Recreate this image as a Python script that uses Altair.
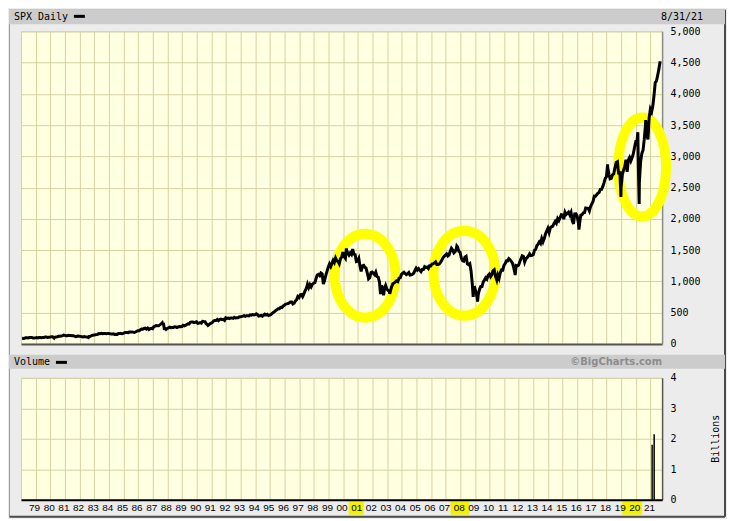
import altair as alt
import pandas as pd

# ---------------- data ----------------
YEARS = list(range(1978, 2022))
YEAR_LABELS = list(range(1979, 2022))

# S&P 500 month-end closes, Jan 1978 .. Aug 2021 (read / estimated)
SPX_CLOSE = [
    89.25, 87.04, 89.21, 96.83, 97.24, 95.53, 100.68, 103.29, 102.54, 93.15, 94.70, 96.11,
    99.93, 96.28, 101.59, 101.76, 99.08, 102.91, 103.81, 109.32, 109.32, 101.82, 106.16, 107.94,
    114.16, 113.66, 102.09, 106.29, 111.24, 114.24, 121.67, 122.38, 125.46, 127.47, 140.52, 135.76,
    129.55, 131.27, 136.00, 132.81, 132.59, 131.21, 130.92, 122.79, 116.18, 121.89, 126.35, 122.55,
    120.40, 113.11, 111.96, 116.44, 111.88, 109.61, 107.09, 119.51, 120.42, 133.71, 138.54, 140.64,
    145.30, 148.06, 152.96, 164.42, 162.39, 168.11, 162.56, 164.40, 166.07, 163.55, 166.40, 164.93,
    163.41, 157.06, 159.18, 160.05, 150.55, 153.18, 150.66, 166.68, 166.10, 166.09, 163.58, 167.24,
    179.63, 181.18, 180.66, 179.83, 189.55, 191.85, 190.92, 188.63, 182.08, 189.82, 202.17, 211.28,
    211.78, 226.92, 238.90, 235.52, 247.35, 250.84, 236.12, 252.93, 231.32, 243.98, 249.22, 242.17,
    274.08, 284.20, 291.70, 288.36, 290.10, 304.00, 318.66, 329.80, 321.83, 251.79, 230.30, 247.08,
    257.07, 267.82, 258.89, 261.33, 262.16, 273.50, 272.02, 261.52, 271.91, 278.97, 273.70, 277.72,
    297.47, 288.86, 294.87, 309.64, 320.52, 317.98, 346.08, 351.45, 349.15, 340.36, 345.99, 353.40,
    329.08, 331.89, 339.94, 330.80, 361.23, 358.02, 356.15, 322.56, 306.05, 304.00, 322.22, 330.22,
    343.93, 367.07, 375.22, 375.34, 389.83, 371.16, 387.81, 395.43, 387.86, 392.45, 375.22, 417.09,
    408.79, 412.70, 403.69, 414.95, 415.35, 408.14, 424.21, 414.03, 417.80, 418.68, 431.35, 435.71,
    438.78, 443.38, 451.67, 440.19, 450.19, 450.53, 448.13, 463.56, 458.93, 467.83, 461.79, 466.45,
    481.61, 467.14, 445.77, 450.91, 456.50, 444.27, 458.26, 475.49, 462.69, 472.35, 453.69, 459.27,
    470.42, 487.39, 500.71, 514.71, 533.40, 544.75, 562.06, 561.88, 584.41, 581.50, 605.37, 615.93,
    636.02, 640.43, 645.50, 654.17, 669.12, 670.63, 639.95, 651.99, 687.33, 705.27, 757.02, 740.74,
    786.16, 790.82, 757.12, 801.34, 848.28, 885.14, 954.31, 899.47, 947.28, 914.62, 955.40, 970.43,
    980.28, 1049.34, 1101.75, 1111.75, 1090.82, 1133.84, 1120.67, 957.28, 1017.01, 1098.67, 1163.63, 1229.23,
    1279.64, 1238.33, 1286.37, 1335.18, 1301.84, 1372.71, 1328.72, 1320.41, 1282.71, 1362.93, 1388.91, 1469.25,
    1394.46, 1366.42, 1498.58, 1452.43, 1420.60, 1454.60, 1430.83, 1517.68, 1436.51, 1429.40, 1314.95, 1320.28,
    1366.01, 1239.94, 1160.33, 1249.46, 1255.82, 1224.42, 1211.23, 1133.58, 1040.94, 1059.78, 1139.45, 1148.08,
    1130.20, 1106.73, 1147.39, 1076.92, 1067.14, 989.82, 911.62, 916.07, 815.28, 885.76, 936.31, 879.82,
    855.70, 841.15, 848.18, 916.92, 963.59, 974.50, 990.31, 1008.01, 995.97, 1050.71, 1058.20, 1111.92,
    1131.13, 1144.94, 1126.21, 1107.30, 1120.68, 1140.84, 1101.72, 1104.24, 1114.58, 1130.20, 1173.82, 1211.92,
    1181.27, 1203.60, 1180.59, 1156.85, 1191.50, 1191.33, 1234.18, 1220.33, 1228.81, 1207.01, 1249.48, 1248.29,
    1280.08, 1280.66, 1294.83, 1310.61, 1270.09, 1270.20, 1276.66, 1303.82, 1335.85, 1377.94, 1400.63, 1418.30,
    1438.24, 1406.82, 1420.86, 1482.37, 1530.62, 1503.35, 1455.27, 1473.99, 1526.75, 1549.38, 1481.14, 1468.36,
    1378.55, 1330.63, 1322.70, 1385.59, 1400.38, 1280.00, 1267.38, 1282.83, 1166.36, 968.75, 896.24, 903.25,
    825.88, 735.09, 797.87, 872.81, 919.14, 919.32, 987.48, 1020.62, 1057.08, 1036.19, 1095.63, 1115.10,
    1073.87, 1104.49, 1169.43, 1186.69, 1089.41, 1030.71, 1101.60, 1049.33, 1141.20, 1183.26, 1180.55, 1257.64,
    1286.12, 1327.22, 1325.83, 1363.61, 1345.20, 1320.64, 1292.28, 1218.89, 1131.42, 1253.30, 1246.96, 1257.60,
    1312.41, 1365.68, 1408.47, 1397.91, 1310.33, 1362.16, 1379.32, 1406.58, 1440.67, 1412.16, 1416.18, 1426.19,
    1498.11, 1514.68, 1569.19, 1597.57, 1630.74, 1606.28, 1685.73, 1632.97, 1681.55, 1756.54, 1805.81, 1848.36,
    1782.59, 1859.45, 1872.34, 1883.95, 1923.57, 1960.23, 1930.67, 2003.37, 1972.29, 2018.05, 2067.56, 2058.90,
    1994.99, 2104.50, 2067.89, 2085.51, 2107.39, 2063.11, 2103.84, 1972.18, 1920.03, 2079.36, 2080.41, 2043.94,
    1940.24, 1932.23, 2059.74, 2065.30, 2096.95, 2098.86, 2173.60, 2170.95, 2168.27, 2126.15, 2198.81, 2238.83,
    2278.87, 2363.64, 2362.72, 2384.20, 2411.80, 2423.41, 2470.30, 2471.65, 2519.36, 2575.26, 2647.58, 2673.61,
    2823.81, 2713.83, 2640.87, 2648.05, 2705.27, 2718.37, 2816.29, 2901.52, 2913.98, 2711.74, 2760.17, 2506.85,
    2704.10, 2784.49, 2834.40, 2945.83, 2752.06, 2941.76, 2980.38, 2926.46, 2976.74, 3037.56, 3140.98, 3230.78,
    3225.52, 2954.22, 2584.59, 2912.43, 3044.31, 3100.29, 3271.12, 3500.31, 3363.00, 3269.96, 3621.63, 3756.07,
    3714.24, 3811.15, 3972.89, 4181.17, 4204.11, 4297.50, 4395.26, 4522.68,
]

# intra-month highs / lows that show as spikes
EXTREME_DATES = ["1980-03-27", "1982-08-12", "1987-08-25", "1987-10-19", "1990-10-11",
                 "2000-03-24", "2002-07-23", "2002-10-09", "2003-03-11", "2007-10-09",
                 "2008-11-20", "2009-03-09", "2010-07-02", "2011-10-03", "2016-02-11",
                 "2018-01-26", "2018-12-24", "2020-02-19", "2020-03-23", "2020-09-02"]
EXTREME_VALUES = [98.22, 102.42, 336.77, 224.84, 295.46,
                  1527.46, 797.70, 776.76, 800.73, 1565.15,
                  752.44, 676.53, 1022.58, 1099.23, 1829.08,
                  2872.87, 2351.10, 3386.15, 2237.40, 3580.84]

VOL_DATES = ["2021-02-09", "2021-04-01"]
VOL_BILLIONS = [1.80, 2.15]

Y_TICKS = [0, 500, 1000, 1500, 2000, 2500, 3000, 3500, 4000, 4500, 5000]
VOL_TICKS = [0, 1, 2, 3, 4]

HIGHLIGHT_START = ["2000-05-20", "2007-05-05", "2019-01-25"]
HIGHLIGHT_END = ["2001-05-30", "2008-08-20", "2020-06-05"]

CIRCLE_DATES = ["2001-07-05", "2008-04-15", "2020-06-05"]
CIRCLE_VALUES = [1090, 1130, 2829]
CIRCLE_W = [61, 62, 48]
CIRCLE_H = [84, 85, 99]
CIRCLE_ANGLE = [0, 0, 0]

# ---------------- tables ----------------
month_dates = [f"{y}-{m:02d}-28" for y in YEARS for m in range(1, 13)][: len(SPX_CLOSE)]
spx = pd.DataFrame({"date": month_dates + EXTREME_DATES,
                    "close": SPX_CLOSE + EXTREME_VALUES}).sort_values("date")
vol = pd.DataFrame({"date": VOL_DATES, "billions": VOL_BILLIONS, "base": [0, 0]})
hl = pd.DataFrame({"start": HIGHLIGHT_START, "end": HIGHLIGHT_END})
one = pd.DataFrame({"k": [0]})

GRID = "#d5d2a2"
PLOT_BG = "#ffffe2"
OUTER_BG = "#ececec"
BAND = "#cccccc"
MONO = "DejaVu Sans Mono"
NARROW = "Liberation Sans Narrow, Arial Narrow, Liberation Sans"

W, H_TOP, H_VOL = 642, 313, 122

x_scale = alt.Scale(type="utc", domain=[
    alt.DateTime(year=1978, month=1, date=1, utc=True),
    alt.DateTime(year=2021, month=10, date=16, utc=True)])
year_ticks = [alt.DateTime(year=y, month=1, date=1, utc=True) for y in YEAR_LABELS]

x_axis_top = alt.Axis(values=year_ticks, labels=False, ticks=False, grid=True, title=None,
                      gridColor=GRID, gridOpacity=1, domainColor="#555555", domainWidth=2)
y_axis_top = alt.Axis(orient="right", values=Y_TICKS, format=",.0f", ticks=False, title=None,
                      labelPadding=8, labelFont=MONO, labelFontSize=10, labelColor="black",
                      grid=True, gridColor=GRID, gridOpacity=1,
                      domainColor="#8a8a8a", domainWidth=1.5)
y_scale_top = alt.Scale(domain=[0, 5000], nice=False)

x_axis_vol = alt.Axis(values=year_ticks, format="%y", ticks=False, labelPadding=3, title=None,
                      labelFont=NARROW, labelFontSize=10, labelColor="black",
                      labelOverlap=False, labelFlush=False, labelOffset=-1.5,
                      grid=True, gridColor=GRID, gridOpacity=1,
                      domainColor="black", domainWidth=2, zindex=1)
y_axis_vol = alt.Axis(orient="right", values=VOL_TICKS, format=".0f", ticks=False,
                      labelPadding=8, title=None,
                      labelFont=MONO, labelFontSize=10, labelColor="black",
                      grid=True, gridColor=GRID, gridOpacity=1,
                      domainColor="#555555", domainWidth=1.5)


def ellipse_path(a, b):
    k = 0.5523
    f = lambda v: f"{v:.4f}"
    return (f"M {f(a)},0 C {f(a)},{f(k*b)} {f(k*a)},{f(b)} 0,{f(b)} "
            f"C {f(-k*a)},{f(b)} {f(-a)},{f(k*b)} {f(-a)},0 "
            f"C {f(-a)},{f(-k*b)} {f(-k*a)},{f(-b)} 0,{f(-b)} "
            f"C {f(k*a)},{f(-b)} {f(a)},{f(-k*b)} {f(a)},0 Z")


# ---------------- top panel ----------------
frame = alt.Chart(one).mark_rect(fillOpacity=0, stroke="#9a9a9a", strokeWidth=1).encode(
    x=alt.value(-11.5), x2=alt.value(705), y=alt.value(-21.5), y2=alt.value(486))
frame_dark = alt.Chart(one).mark_rule(color="#4a4a4a", strokeWidth=2).encode(
    x=alt.value(705), y=alt.value(-21.5), y2=alt.value(486))
frame_dark2 = alt.Chart(one).mark_rule(color="#4a4a4a", strokeWidth=2).encode(
    x=alt.value(-11.5), x2=alt.value(705), y=alt.value(486))
band_top = alt.Chart(one).mark_rect(color=BAND).encode(
    x=alt.value(-12), x2=alt.value(705), y=alt.value(-22), y2=alt.value(-7))
title_top = alt.Chart(one).mark_text(text="SPX Daily", align="left", baseline="middle",
                                     font=MONO, fontSize=10, color="black").encode(
    x=alt.value(-7), y=alt.value(-14.5))
dash_top = alt.Chart(one).mark_rule(color="black", strokeWidth=3).encode(
    x=alt.value(53), x2=alt.value(64), y=alt.value(-15))
date_top = alt.Chart(one).mark_text(text="8/31/21", align="right", baseline="middle",
                                    font=MONO, fontSize=10, color="black").encode(
    x=alt.value(683), y=alt.value(-14.5))

circles = []
for d, v, w, h, ang in zip(CIRCLE_DATES, CIRCLE_VALUES, CIRCLE_W, CIRCLE_H, CIRCLE_ANGLE):
    cdf = pd.DataFrame({"date": [d], "close": [v]})
    circles.append(
        alt.Chart(cdf).mark_point(shape=ellipse_path(w / h, 1.0), size=h * h, filled=False,
                                  stroke="#ffff00", strokeWidth=10, opacity=1, angle=ang).encode(
            x=alt.X("date:T", scale=x_scale, axis=x_axis_top),
            y=alt.Y("close:Q", scale=y_scale_top, axis=y_axis_top)))

line = alt.Chart(spx).mark_line(color="black", strokeWidth=3).encode(
    x=alt.X("date:T", scale=x_scale, axis=x_axis_top),
    y=alt.Y("close:Q", scale=y_scale_top, axis=y_axis_top))

top = alt.layer(frame, frame_dark, frame_dark2, band_top, title_top, dash_top, date_top,
                *circles, line).properties(width=W, height=H_TOP)

# ---------------- volume panel ----------------
band_vol = alt.Chart(one).mark_rect(color=BAND).encode(
    x=alt.value(-12), x2=alt.value(705), y=alt.value(-23), y2=alt.value(-9))
title_vol = alt.Chart(one).mark_text(text="Volume", align="left", baseline="middle",
                                     font=MONO, fontSize=10, color="black").encode(
    x=alt.value(-7), y=alt.value(-15.5))
dash_vol = alt.Chart(one).mark_rule(color="black", strokeWidth=3).encode(
    x=alt.value(35), x2=alt.value(46), y=alt.value(-15.5))
brand = alt.Chart(one).mark_text(text="©BigCharts.com", align="right", baseline="middle",
                                 font="DejaVu Sans", fontWeight="bold", fontSize=10,
                                 color="#8c8c8c").encode(
    x=alt.value(642), y=alt.value(-15.5))
billions = alt.Chart(one).mark_text(text="Billions", align="center", baseline="middle",
                                    angle=270, font=MONO, fontSize=10, color="black").encode(
    x=alt.value(696), y=alt.value(61))
highlights = alt.Chart(hl).mark_rect(color="#f2f200").encode(
    x=alt.X("start:T", scale=x_scale, axis=x_axis_vol), x2="end:T",
    y=alt.value(123.5), y2=alt.value(137))

bars = alt.Chart(vol).mark_rule(color="black", strokeWidth=1.5).encode(
    x=alt.X("date:T", scale=x_scale, axis=x_axis_vol),
    y=alt.Y("billions:Q", scale=alt.Scale(domain=[0, 4], nice=False), axis=y_axis_vol),
    y2="base:Q")

bottom = alt.layer(band_vol, title_vol, dash_vol, brand, billions, highlights, bars).properties(
    width=W, height=H_VOL)

chart = alt.vconcat(top, bottom, spacing=34, bounds="flush", padding=0,
                    background=OUTER_BG).configure_view(fill=PLOT_BG, stroke=GRID, strokeWidth=1)

chart.save("out.html", embed_options={"renderer": "svg", "actions": False})
